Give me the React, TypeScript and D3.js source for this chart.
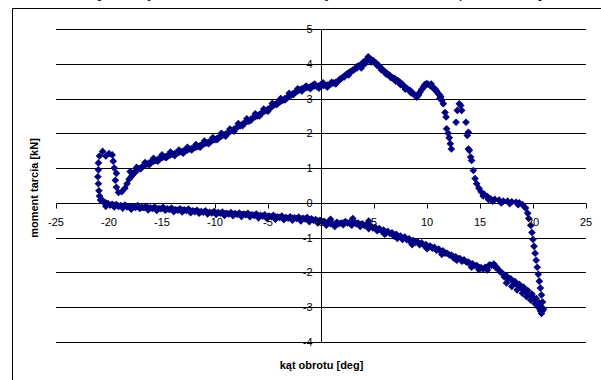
import React from "react";
import * as d3 from "d3";

// Axis ticks
const xTicks = [-25, -20, -15, -10, -5, 0, 5, 10, 15, 20, 25];
const yTicks = [-4, -3, -2, -1, 0, 1, 2, 3, 4, 5];

// Measured friction moment [kN] vs rotation angle [deg], first cycle, in loop order
const lowerBranch: [number, number][] = [
  [-20.8, 0.08], [-20.5, 0.02], [-20.1, -0.02], [-19.7, -0.04], [-19.3, -0.05], [-18.9, -0.08],
  [-18.5, -0.06], [-18.1, -0.1], [-17.7, -0.12], [-17.3, -0.08], [-16.9, -0.13], [-16.5, -0.1],
  [-16.1, -0.14], [-15.7, -0.12], [-15.3, -0.16], [-14.9, -0.13], [-14.5, -0.17], [-14.1, -0.15],
  [-13.7, -0.2], [-13.3, -0.17], [-12.9, -0.2], [-12.5, -0.18], [-12.1, -0.23], [-11.7, -0.21],
  [-11.3, -0.25], [-10.9, -0.23], [-10.5, -0.27], [-10.1, -0.25], [-9.7, -0.28], [-9.3, -0.26],
  [-8.9, -0.3], [-8.5, -0.28], [-8.1, -0.31], [-7.7, -0.29], [-7.3, -0.32], [-6.9, -0.3],
  [-6.5, -0.34], [-6.1, -0.32], [-5.7, -0.36], [-5.3, -0.34], [-4.9, -0.38], [-4.5, -0.36],
  [-4.1, -0.4], [-3.7, -0.38], [-3.3, -0.42], [-2.9, -0.4], [-2.5, -0.43], [-2.1, -0.41],
  [-1.7, -0.44], [-1.3, -0.42], [-0.9, -0.46], [-0.5, -0.48], [-0.1, -0.5], [0.3, -0.53],
  [0.7, -0.58], [1.1, -0.6], [1.5, -0.56], [1.9, -0.58], [2.3, -0.54], [2.7, -0.57],
  [3.1, -0.53], [3.5, -0.58], [3.9, -0.6], [4.3, -0.63], [4.7, -0.66], [5.1, -0.7],
  [5.5, -0.74], [5.9, -0.78], [6.3, -0.82], [6.7, -0.86], [7.1, -0.9], [7.5, -0.95],
  [7.9, -0.98], [8.3, -1.03], [8.7, -1.08], [9.1, -1.12], [9.5, -1.15], [9.9, -1.2],
  [10.3, -1.24], [10.7, -1.28], [11.1, -1.33], [11.5, -1.38], [11.9, -1.45], [12.3, -1.5],
  [12.7, -1.55], [13.1, -1.6], [13.5, -1.64], [13.9, -1.7], [14.3, -1.75], [14.7, -1.8],
  [15.1, -1.86], [15.5, -1.85], [15.9, -1.78], [16.3, -1.76], [16.7, -1.9], [17.1, -2.02],
  [17.5, -2.1], [17.9, -2.18], [18.3, -2.26], [18.7, -2.34], [19.1, -2.42], [19.5, -2.52],
  [19.9, -2.62], [20.3, -2.75], [20.6, -2.88], [20.8, -3.0], [20.9, -3.1], [20.8, -3.18],
];

const rightRise: [number, number][] = [
  [21.0, -3.05], [20.9, -2.85], [20.8, -2.65], [20.7, -2.45], [20.6, -2.25], [20.5, -2.05],
  [20.4, -1.85], [20.3, -1.65], [20.2, -1.45], [20.1, -1.25], [20.0, -1.05], [19.9, -0.85],
  [19.8, -0.65], [19.6, -0.45], [19.5, -0.3], [19.3, -0.15], [19.0, -0.05], [18.7, 0.0],
  [18.4, 0.02], [18.0, 0.03], [17.6, 0.05], [17.2, 0.05], [16.8, 0.08], [16.4, 0.1],
  [16.0, 0.12], [15.7, 0.18], [15.4, 0.25], [15.1, 0.32], [14.9, 0.42], [14.69, 0.55],
  [14.53, 0.7], [14.37, 0.93], [14.21, 1.22], [14.12, 1.32], [14.0, 1.51], [13.9, 1.55],
  [13.8, 1.94], [13.9, 2.03], [13.68, 2.32], [13.27, 2.66], [13.18, 2.8], [13.05, 2.85],
];

const upperRight: [number, number][] = [
  [12.86, 2.66], [12.74, 2.32], [12.3, 1.55], [12.2, 1.7], [12.1, 1.87], [12.0, 2.0],
  [11.85, 2.13], [11.8, 2.47], [11.7, 2.6], [11.54, 2.85], [11.4, 2.95], [11.3, 3.05],
  [11.07, 3.14], [10.75, 3.28], [10.5, 3.33], [10.28, 3.38], [9.97, 3.43], [9.65, 3.33],
  [9.34, 3.18], [9.03, 3.04], [8.7, 3.14], [8.4, 3.23], [8.15, 3.28], [7.92, 3.33],
  [7.7, 3.4], [7.45, 3.47], [7.2, 3.52], [6.98, 3.57], [6.75, 3.6], [6.51, 3.66],
  [6.28, 3.7], [6.04, 3.76], [5.8, 3.83], [5.57, 3.9],
];

const upperMiddle: [number, number][] = [
  [5.4, 3.96], [5.2, 4.02], [4.9, 4.1], [4.6, 4.15], [4.3, 4.12], [4.0, 4.05],
  [3.6, 3.95], [3.2, 3.85], [2.8, 3.78], [2.4, 3.7], [2.0, 3.6], [1.6, 3.5],
  [1.2, 3.45], [0.8, 3.4], [0.4, 3.38], [0.0, 3.4], [-0.4, 3.35], [-0.8, 3.38],
  [-1.2, 3.32], [-1.6, 3.3], [-2.0, 3.25], [-2.4, 3.18], [-2.8, 3.1], [-3.2, 3.02],
  [-3.6, 2.95], [-4.0, 2.88], [-4.4, 2.82], [-4.8, 2.72], [-5.2, 2.65], [-5.6, 2.58],
  [-6.0, 2.5], [-6.4, 2.45], [-6.8, 2.35], [-7.2, 2.3], [-7.6, 2.22], [-8.0, 2.15],
  [-8.4, 2.08], [-8.8, 2.0], [-9.2, 1.95], [-9.6, 1.88], [-10.0, 1.82], [-10.4, 1.78],
];

const upperLeft: [number, number][] = [
  [-10.8, 1.72], [-11.2, 1.68], [-11.6, 1.62], [-12.0, 1.58], [-12.4, 1.55], [-12.8, 1.5],
  [-13.2, 1.47], [-13.6, 1.43], [-14.0, 1.4], [-14.4, 1.36], [-14.8, 1.32], [-15.2, 1.28],
  [-15.6, 1.22], [-16.0, 1.18], [-16.4, 1.12], [-16.8, 1.05], [-17.2, 0.98], [-17.5, 0.9],
  [-17.8, 0.8], [-18.1, 0.68], [-18.3, 0.55], [-18.5, 0.42], [-18.8, 0.32], [-19.1, 0.3],
  [-19.3, 0.45], [-19.4, 0.65], [-19.3, 0.85], [-19.5, 1.0], [-19.6, 1.2], [-19.7, 1.38],
  [-20.0, 1.42], [-20.3, 1.35], [-20.6, 1.48], [-20.9, 1.35], [-21.0, 1.15], [-21.0, 0.95],
  [-21.05, 0.75], [-21.0, 0.55], [-20.95, 0.35], [-20.9, 0.2], [-20.7, 0.1],
];

// Second cycle, running slightly off the first one
const lowerSecond: [number, number][] = [
  [-20.3, -0.1], [-19.5, -0.12], [-18.7, -0.15], [-17.9, -0.18], [-17.1, -0.16], [-16.3, -0.2],
  [-15.5, -0.22], [-14.7, -0.21], [-13.9, -0.25], [-13.1, -0.26], [-12.3, -0.28], [-11.5, -0.3],
  [-10.7, -0.32], [-9.9, -0.33], [-9.1, -0.36], [-8.3, -0.37], [-7.5, -0.39], [-6.7, -0.4],
  [-5.9, -0.43], [-5.1, -0.45], [-4.3, -0.47], [-3.5, -0.48], [-2.7, -0.5], [-1.9, -0.52],
  [-1.1, -0.54], [-0.3, -0.58], [0.5, -0.64], [1.3, -0.68], [2.1, -0.63], [2.9, -0.64],
  [3.7, -0.68], [4.5, -0.74], [5.3, -0.8], [6.1, -0.88], [6.9, -0.96], [7.7, -1.05],
  [8.5, -1.14], [9.3, -1.2], [10.1, -1.29], [10.9, -1.36], [11.7, -1.44], [12.5, -1.58],
  [13.3, -1.68], [14.1, -1.78], [14.9, -1.92], [15.7, -1.93], [16.5, -1.86], [17.3, -2.13],
  [0.9, -0.47], [3.0, -0.45], [4.5, -0.52], [6.0, -0.9], [7.2, -1.02], [8.6, -1.2],
  [10.0, -1.32], [11.4, -1.48], [12.8, -1.65], [14.2, -1.85], [17.5, -2.3], [18.0, -2.4],
  [18.5, -2.5], [19.0, -2.6], [19.4, -2.7], [19.8, -2.8], [20.2, -2.9], [20.5, -3.0], [20.7, -3.1],
];

const upperSecond: [number, number][] = [
  [16.2, 0.05], [17.0, 0.0], [17.8, -0.02], [18.6, -0.05], [15.3, 0.2], [15.8, 0.1],
  [5.7, 3.82], [6.15, 3.7], [6.6, 3.6], [7.05, 3.5], [7.5, 3.4], [7.95, 3.27],
  [8.5, 3.16], [9.2, 3.1], [9.8, 3.36], [10.4, 3.42], [10.9, 3.22], [11.2, 3.0],
  [4.75, 4.05], [4.45, 4.2], [4.15, 4.0], [3.8, 3.88], [3.4, 3.92], [3.0, 3.8],
  [2.6, 3.68], [2.2, 3.62], [1.8, 3.55], [1.4, 3.42], [1.0, 3.47], [0.6, 3.33],
  [0.2, 3.45], [-0.2, 3.3], [-0.6, 3.42], [-1.0, 3.28], [-1.4, 3.36], [-1.8, 3.22],
  [-2.2, 3.28], [-2.6, 3.12], [-3.0, 3.15], [-3.4, 2.96], [-3.8, 3.0], [-4.2, 2.82],
  [-4.6, 2.86], [-5.0, 2.64], [-5.4, 2.7], [-5.8, 2.5], [-6.2, 2.56], [-6.6, 2.38],
  [-7.0, 2.42], [-7.4, 2.22], [-7.8, 2.28], [-8.2, 2.06], [-8.6, 2.12], [-9.0, 1.92],
  [-9.4, 2.0], [-9.8, 1.82], [-10.2, 1.88], [-10.6, 1.7], [-11.0, 1.78], [-11.4, 1.6],
  [-11.8, 1.68], [-12.2, 1.52], [-12.6, 1.6], [-13.0, 1.43], [-13.4, 1.52], [-13.8, 1.36],
  [-14.2, 1.46], [-14.6, 1.3], [-15.0, 1.38], [-15.4, 1.2], [-15.8, 1.28], [-16.2, 1.1],
  [-16.6, 1.16], [-17.0, 0.98], [-17.4, 1.02], [-17.7, 0.86], [-18.0, 0.9],
];

// Third cycle
const lowerThird: [number, number][] = [
  [-20.3, 0.0], [-19.9, -0.06], [-19.5, -0.07], [-19.1, -0.1], [-18.7, -0.1], [-18.3, -0.12],
  [-17.9, -0.13], [-17.5, -0.13], [-17.1, -0.14], [-16.7, -0.14], [-16.3, -0.15], [-15.9, -0.16],
  [-15.5, -0.17], [-15.1, -0.17], [-14.7, -0.18], [-14.3, -0.19], [-13.9, -0.2], [-13.5, -0.21],
  [-13.1, -0.21], [-12.7, -0.22], [-12.3, -0.23], [-11.9, -0.25], [-11.5, -0.26], [-11.1, -0.27],
  [-10.7, -0.28], [-10.3, -0.29], [-9.9, -0.29], [-9.5, -0.3], [-9.1, -0.31], [-8.7, -0.32],
  [-8.3, -0.32], [-7.9, -0.33], [-7.5, -0.34], [-7.1, -0.34], [-6.7, -0.35], [-6.3, -0.36],
  [-5.9, -0.37], [-5.5, -0.38], [-5.1, -0.39], [-4.7, -0.4], [-4.3, -0.41], [-3.9, -0.42],
  [-3.5, -0.43], [-3.1, -0.44], [-2.7, -0.44], [-2.3, -0.45], [-1.9, -0.46], [-1.5, -0.46],
  [-1.1, -0.48], [-0.7, -0.5], [-0.3, -0.52], [0.1, -0.55], [0.5, -0.58], [0.9, -0.6],
  [1.3, -0.61], [1.7, -0.6], [2.1, -0.58], [2.5, -0.58], [2.9, -0.58], [3.3, -0.6],
  [3.7, -0.62], [4.1, -0.65], [4.5, -0.68], [4.9, -0.72], [5.3, -0.76], [5.7, -0.8],
  [6.1, -0.84], [6.5, -0.88], [6.9, -0.93], [7.3, -0.97], [7.7, -1.01], [8.1, -1.06],
  [8.5, -1.1], [8.9, -1.14], [9.3, -1.18], [9.7, -1.22], [10.1, -1.26], [10.5, -1.3],
  [10.9, -1.34], [11.3, -1.39], [11.7, -1.44], [12.1, -1.5], [12.5, -1.55], [12.9, -1.6],
  [13.3, -1.65], [13.7, -1.7], [14.1, -1.75], [14.5, -1.8], [14.9, -1.86], [15.3, -1.9],
  [15.7, -1.85], [16.1, -1.8], [16.5, -1.83], [16.9, -1.98], [17.3, -2.08], [17.7, -2.18],
  [18.1, -2.26], [18.5, -2.36], [18.9, -2.45], [19.3, -2.55], [19.7, -2.65], [20.1, -2.75],
  [20.45, -2.9], [20.65, -3.0],
];

const upperThird: [number, number][] = [
  [5.7, 3.87], [5.9, 3.8], [6.2, 3.73], [6.4, 3.68], [6.9, 3.58], [7.3, 3.5],
  [7.6, 3.43], [8.0, 3.3], [8.3, 3.24], [8.6, 3.18], [8.9, 3.08], [9.2, 3.14],
  [9.5, 3.26], [9.8, 3.4], [10.1, 3.41], [10.6, 3.3], [10.9, 3.2], [11.2, 3.1],
  [5.3, 3.95], [5.0, 4.06], [4.7, 4.12], [4.4, 4.1], [4.1, 4.06], [3.8, 3.95],
  [3.4, 3.88], [3.0, 3.82], [2.6, 3.74], [2.2, 3.65], [1.8, 3.56], [1.4, 3.47],
  [1.0, 3.43], [0.6, 3.39], [0.2, 3.38], [-0.2, 3.37], [-0.6, 3.36], [-1.0, 3.34],
  [-1.4, 3.31], [-1.8, 3.28], [-2.2, 3.22], [-2.6, 3.15], [-3.0, 3.07], [-3.4, 3.0],
  [-3.8, 2.92], [-4.2, 2.86], [-4.6, 2.78], [-5.0, 2.7], [-5.4, 2.62], [-5.8, 2.55],
  [-6.2, 2.48], [-6.6, 2.41], [-7.0, 2.34], [-7.4, 2.27], [-7.8, 2.2], [-8.2, 2.12],
  [-8.6, 2.05], [-9.0, 1.98], [-9.4, 1.92], [-9.8, 1.86], [-10.2, 1.8], [-10.6, 1.75],
  [-11.0, 1.7], [-11.4, 1.65], [-11.8, 1.6], [-12.2, 1.56], [-12.6, 1.52], [-13.0, 1.49],
  [-13.4, 1.45], [-13.8, 1.42], [-14.2, 1.38], [-14.6, 1.34], [-15.0, 1.3], [-15.4, 1.25],
  [-15.8, 1.2], [-16.2, 1.15], [-16.6, 1.08], [-17.0, 1.01], [-17.35, 0.94], [-17.65, 0.85],
  [-17.95, 0.74],
];

const series = [
  lowerBranch, lowerSecond, lowerThird,
  rightRise, upperRight, upperMiddle, upperLeft, upperSecond, upperThird,
];

// Running text above the chart frame (only its lowest strokes reach into view)
const captionWords: [number, string][] = [
  [20, "skokowo,"],
  [90, "opór"],
  [133, "siły"],
  [190, "tarcia mocowania,"],
  [318, "by"],
  [345, "zatem"],
  [395, "na rzecz"],
  [452, "efektu"],
  [494, "oraz"],
  [528, "tej,"],
];

const W = 601;
const H = 380;

const x = d3.scaleLinear().domain([-25, 25]).range([56, 586]);
const y = d3.scaleLinear().domain([-4, 5]).range([342, 29]);

const diamond = (cx: number, cy: number, r: number) =>
  `M${cx},${cy - r}L${cx + r},${cy}L${cx},${cy + r}L${cx - r},${cy}Z`;

export default function App() {
  const x0 = Math.round(x(0)) + 0.5;
  const y0 = Math.round(y(0)) + 0.5;
  const sans = "'Liberation Sans', Arial, sans-serif";
  const points = series.flat();
  return (
    <div style={{ position: "fixed", left: 0, top: 0 }}>
      <svg width={W} height={H} style={{ display: "block", background: "#fff" }}>
        <text
          y={-3}
          fontFamily="'Liberation Serif', 'Times New Roman', serif"
          fontStyle="italic"
          fontSize={17}
          fill="#000"
        >
          {captionWords.map(([px, w]) => (
            <tspan key={px} x={px}>
              {w}
            </tspan>
          ))}
        </text>
        {/* chart area border */}
        <path d={`M12.5,${H}V8.5H${W}`} fill="none" stroke="#000" strokeWidth={1} />
        {/* horizontal gridlines */}
        {yTicks.map((t) => (
          <line
            key={`g${t}`}
            x1={x(-25)}
            x2={x(25)}
            y1={Math.round(y(t)) + 0.5}
            y2={Math.round(y(t)) + 0.5}
            stroke="#000"
            strokeWidth={1}
          />
        ))}
        {/* axes */}
        <line x1={x0} x2={x0} y1={y(5)} y2={y(-4)} stroke="#000" strokeWidth={1} />
        {xTicks.map((t) => (
          <line
            key={`xt${t}`}
            x1={Math.round(x(t)) + 0.5}
            x2={Math.round(x(t)) + 0.5}
            y1={y0}
            y2={y0 + 5}
            stroke="#000"
          />
        ))}
        {yTicks.map((t) => (
          <line
            key={`yt${t}`}
            x1={x0 - 5}
            x2={x0}
            y1={Math.round(y(t)) + 0.5}
            y2={Math.round(y(t)) + 0.5}
            stroke="#000"
          />
        ))}
        {/* data points */}
        <g fill="#000080">
          {points.map(([a, b], i) => (
            <path key={i} d={diamond(x(a), y(b), 3.8)} />
          ))}
        </g>
        {/* tick labels */}
        {xTicks.map((t) => (
          <text
            key={`xl${t}`}
            x={x(t)}
            y={y0 + 22}
            textAnchor="middle"
            fontFamily={sans}
            fontSize={11}
            fill="#000"
          >
            {t}
          </text>
        ))}
        {yTicks.map((t) => (
          <text
            key={`yl${t}`}
            x={x0 - 9}
            y={y(t) + 4}
            textAnchor="end"
            fontFamily={sans}
            fontSize={11}
            fill="#000"
          >
            {t}
          </text>
        ))}
        {/* axis titles */}
        <text
          x={x0}
          y={369}
          textAnchor="middle"
          fontFamily={sans}
          fontSize={11}
          fontWeight="bold"
          fill="#000"
        >
          kąt obrotu [deg]
        </text>
        <text
          transform={`translate(38,${188}) rotate(-90)`}
          textAnchor="middle"
          fontFamily={sans}
          fontSize={11}
          fontWeight="bold"
          fill="#000"
        >
          moment tarcia [kN]
        </text>
      </svg>
    </div>
  );
}
